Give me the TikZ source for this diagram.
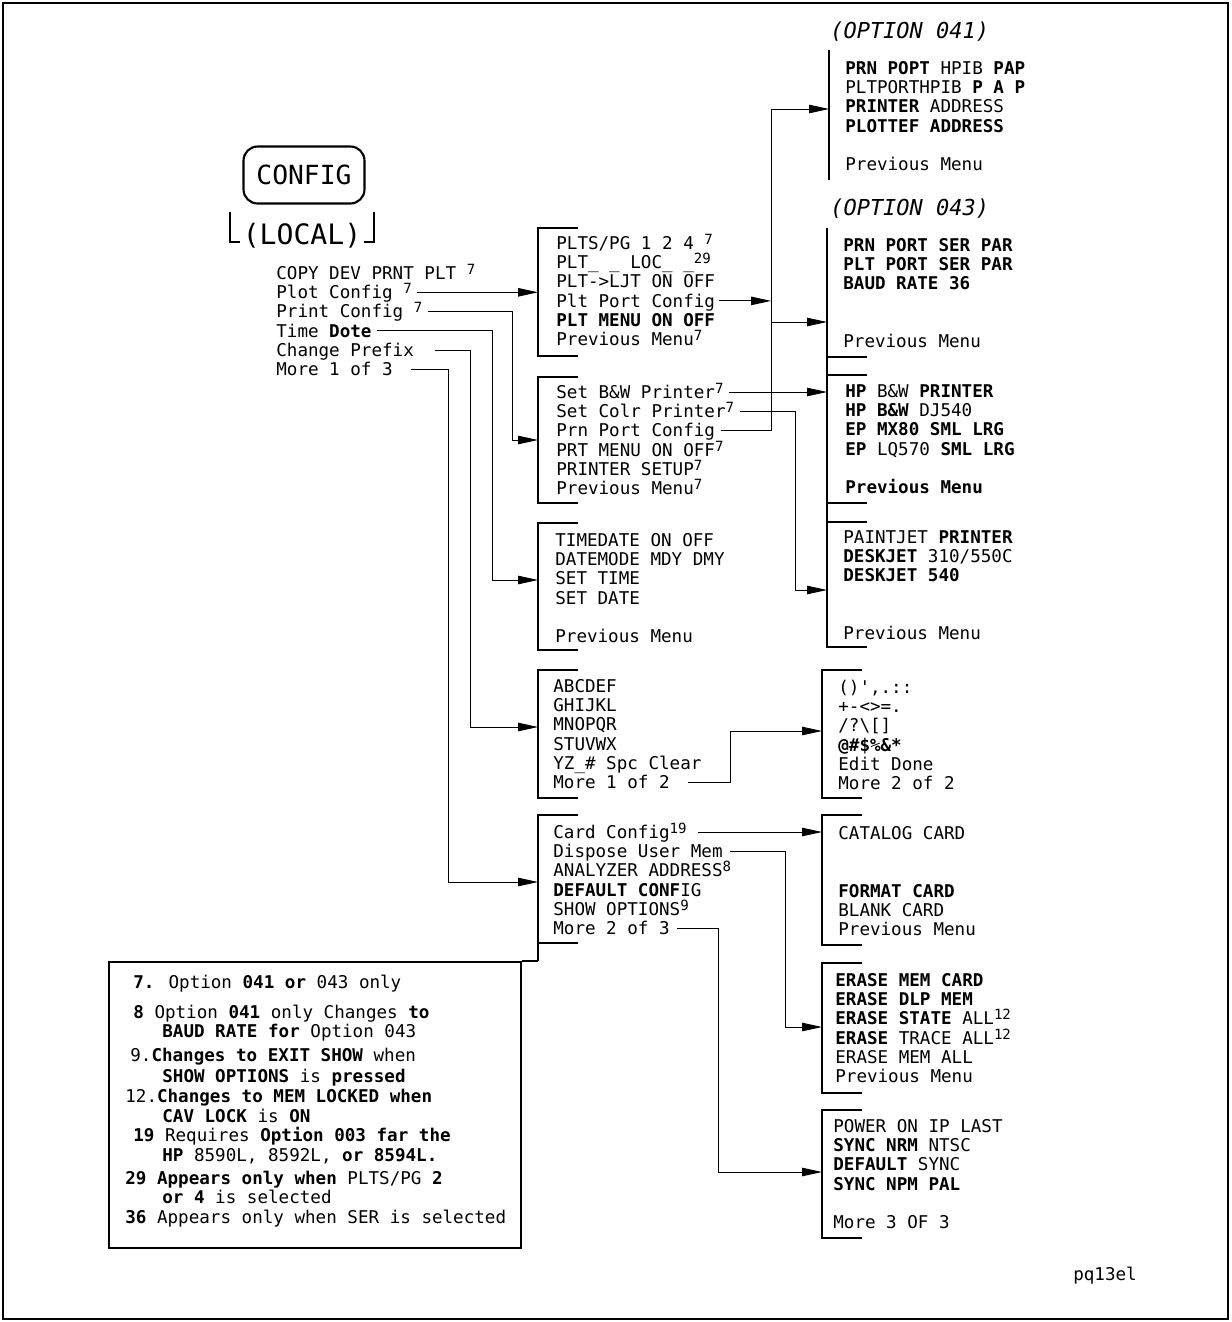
\documentclass[tikz,border=0pt]{standalone}
\usepackage{fontspec}
\setmainfont{DejaVu Sans Mono}
\usetikzlibrary{arrows.meta,positioning,calc}
\newcommand{\nt}[1]{\raisebox{0.28em}{\fontsize{8}{9.6}\selectfont #1}}

\begin{document}
\begin{tikzpicture}[x=0.02cm, y=-0.02cm,
    item/.style={anchor=west, inner sep=0pt, text height=7pt, text depth=0pt,
        font=\fontsize{10}{12}\selectfont},
    menubox/.style={anchor=north west, minimum width=0.8cm, inner sep=0pt, outer sep=0pt},
    brk/.style={line width=1.3pt},
    conn/.style={line width=0.5pt, -{Triangle[length=4mm,width=1.7mm]}},
    head/.style={anchor=west, inner sep=0pt, font=\fontsize{12.5}{14}\selectfont\itshape}
]
\useasboundingbox (0,0) rectangle (1231,1322);
\draw[line width=1.2pt] (3,3) rectangle (1228,1319);

% hard key
\node[draw, line width=1.2pt, rounded corners=8pt, minimum width=2.42cm, minimum height=1.14cm,
      font=\fontsize{15}{18}\selectfont] (config) at (304,175) {CONFIG};
\node[inner sep=0pt, font=\fontsize{16}{18}\selectfont] (local) at (302,236) {(LOCAL)};
\draw[line width=0.8pt] (230,212) -- (230,242) -- (240,242);
\draw[line width=0.8pt] (374,212) -- (374,242) -- (364,242);

\foreach \i/\t in {0/{COPY DEV PRNT PLT \nt{7}}, 1/{Plot Config \nt{7}}, 2/{Print Config \nt{7}},
                   3/{Time \textbf{Dote}}, 4/{Change Prefix}, 5/{More 1 of 3}}
    \node[item] (mm\i) at (276,{273+19.3*\i}) {\t};

% menu brackets
\foreach \nm/\xa/\ya/\yb in {plotm/538/228/356, prtm/538/377/503, timem/538/523/650,
        chrm/538/670/798, morem/538/815/943, symm/822/670/798, catm/822/815/945,
        erm/822/963/1093, pwm/822/1110/1238, hpm/827/375/503, pjm/827/522/647}{
    \node[menubox, minimum height={(\yb-\ya)*0.02cm}] (\nm) at (\xa,\ya) {};
    \draw[brk] (\nm.north east) -- (\nm.north west) -- (\nm.south west) -- (\nm.south east);
}
\node[menubox, minimum height=2.6cm] (o41m) at (829,50) {};
\node[menubox, minimum height=2.58cm] (o43m) at (827,228) {};
\draw[brk] (o41m.north west) -- (o41m.south west);
\draw[brk] (o43m.north west) -- (pjm.north west);
\draw[brk] (o43m.south west) -- (o43m.south east);

\node[head] (h41) at (830,32) {(OPTION 041)};
\node[head] (h43) at (830,209) {(OPTION 043)};

\foreach \i/\t in {0/{PLTS/PG 1 2 4 \nt{7}}, 1/{PLT\_ \_ LOC\_ \_\nt{29}}, 2/{PLT->LJT ON OFF},
                   3/{Plt Port Config}, 4/{\textbf{PLT MENU ON OFF}}, 5/{Previous Menu\nt{7}}}
    \node[item] (pl\i) at (556,{243+19.3*\i}) {\t};
\foreach \i/\t in {0/{Set B\&W Printer\nt{7}}, 1/{Set Colr Printer\nt{7}}, 2/{Prn Port Config},
                   3/{PRT MENU ON OFF\nt{7}}, 4/{PRINTER SETUP\nt{7}}, 5/{Previous Menu\nt{7}}}
    \node[item] (pr\i) at (556,{392+19.3*\i}) {\t};
\foreach \i/\t in {0/{TIMEDATE ON OFF}, 1/{DATEMODE MDY DMY}, 2/{SET TIME}, 3/{SET DATE},
                   5/{Previous Menu}}
    \node[item] (tm\i) at (555,{540+19.3*\i}) {\t};
\foreach \i/\t in {0/{ABCDEF}, 1/{GHIJKL}, 2/{MNOPQR}, 3/{STUVWX}, 4/{YZ\_\# Spc Clear},
                   5/{More 1 of 2}}
    \node[item] (ch\i) at (553,{686+19.3*\i}) {\t};
\foreach \i/\t in {0/{Card Config\nt{19}}, 1/{Dispose User Mem}, 2/{ANALYZER ADDRESS\nt{8}},
                   3/{\textbf{DEFAULT CONF}IG}, 4/{SHOW OPTIONS\nt{9}}, 5/{More 2 of 3}}
    \node[item] (cc\i) at (553,{832+19.3*\i}) {\t};

\foreach \i/\t in {0/{\textbf{PRN POPT} HPIB \textbf{PAP}}, 1/{PLTPORTHPIB \textbf{P A P}},
                   2/{\textbf{PRINTER} ADDRESS}, 3/{\textbf{PLOTTEF ADDRESS}}, 5/{Previous Menu}}
    \node[item] (oa\i) at (845,{68+19.3*\i}) {\t};
\foreach \i/\t in {0/{\textbf{PRN PORT SER PAR}}, 1/{\textbf{PLT PORT SER PAR}},
                   2/{\textbf{BAUD RATE 36}}, 5/{Previous Menu}}
    \node[item] (ob\i) at (843,{245+19.3*\i}) {\t};
\foreach \i/\t in {0/{\textbf{HP} B\&W \textbf{PRINTER}}, 1/{\textbf{HP B\&W} DJ540},
                   2/{\textbf{EP MX80 SML LRG}}, 3/{\textbf{EP} LQ570 \textbf{SML LRG}},
                   5/{\textbf{Previous Menu}}}
    \node[item] (hp\i) at (845,{391+19.3*\i}) {\t};
\foreach \i/\t in {0/{PAINTJET \textbf{PRINTER}}, 1/{\textbf{DESKJET} 310/550C},
                   2/{\textbf{DESKJET 540}}, 5/{Previous Menu}}
    \node[item] (pj\i) at (843,{537+19.3*\i}) {\t};
\foreach \i/\t in {0/{()\textquotesingle,.::}, 1/{+-<>=.}, 2/{/?\textbackslash[]},
                   3/{\textbf{@\#\$\%\&*}}, 4/{Edit Done}, 5/{More 2 of 2}}
    \node[item] (sy\i) at (838,{687+19.3*\i}) {\t};
\foreach \i/\t in {0/{CATALOG CARD}, 3/{\textbf{FORMAT CARD}}, 4/{BLANK CARD}, 5/{Previous Menu}}
    \node[item] (ca\i) at (838,{833+19.3*\i}) {\t};
\foreach \i/\t in {0/{\textbf{ERASE MEM CARD}}, 1/{\textbf{ERASE DLP MEM}},
                   2/{\textbf{ERASE STATE} ALL\nt{12}}, 3/{\textbf{ERASE} TRACE ALL\nt{12}},
                   4/{ERASE MEM ALL}, 5/{Previous Menu}}
    \node[item] (er\i) at (835,{980+19.3*\i}) {\t};
\foreach \i/\t in {0/{POWER ON IP LAST}, 1/{\textbf{SYNC NRM} NTSC}, 2/{\textbf{DEFAULT} SYNC},
                   3/{\textbf{SYNC NPM PAL}}, 5/{More 3 OF 3}}
    \node[item] (pw\i) at (833,{1126+19.3*\i}) {\t};

% connectors
\coordinate (in-prt) at (538,440);
\coordinate (in-time) at (538,580);
\coordinate (in-chr) at (538,727);
\coordinate (in-more) at (538,882);
\coordinate (bus41) at (771,109);
\coordinate (bus43) at (771,322);
\coordinate (in-pj) at (827,590);
\coordinate (in-sym) at (822,731);
\coordinate (in-erase) at (822,1027);
\coordinate (in-pwr) at (822,1172);

\draw[conn, shorten <=3pt] (mm1.east) -- (mm1.east -| plotm.west);
\draw[conn, shorten <=3pt] (mm2.east) -| ($(in-prt)+(-26,0)$) -- (in-prt);
\draw[conn, shorten <=3pt] (mm3.east) -| ($(in-time)+(-46,0)$) -- (in-time);
\draw[conn, shorten <=12pt] (mm4.east) -| ($(in-chr)+(-68,0)$) -- (in-chr);
\draw[conn, shorten <=10pt] (mm5.east) -| ($(in-more)+(-90,0)$) -- (in-more);

\draw[conn, shorten <=2pt] (pl3.east) -- (pl3.east -| bus41);
\draw[conn, shorten <=3pt] (pr2.east) -| (bus41) -- (bus41 -| o41m.west);
\draw[conn] (bus43) -- (bus43 -| o43m.west);
\draw[conn, shorten <=3pt] (pr0.east) -- (pr0.east -| hpm.west);
\draw[conn, shorten <=3pt] (pr1.east) -| ($(in-pj)+(-32,0)$) -- (in-pj);

\draw[conn, shorten <=10pt] (ch5.east) -| ($(in-sym)+(-92,0)$) -- (in-sym);
\draw[conn, shorten <=6pt] (cc0.east) -- (cc0.east -| catm.west);
\draw[conn, shorten <=4pt] (cc1.east) -| ($(in-erase)+(-37,0)$) -- (in-erase);
\draw[conn, shorten <=4pt] (cc5.east) -| ($(in-pwr)+(-104,0)$) -- (in-pwr);

% notes
\node[draw, line width=1pt, anchor=north west, inner sep=0pt, minimum width=8.24cm,
      minimum height=5.72cm] (legend) at (108,961) {};
\draw[line width=1pt] (legend.north east) -- (morem.west |- legend.north);
\draw[brk] (morem.south west) -- (morem.west |- legend.north);
\foreach \xa/\ya/\t in {133/982/{\textbf{7.} Option \textbf{041 or} 043 only},
        133/1012/{\textbf{8} Option \textbf{041} only Changes \textbf{to}},
        162/1031/{\textbf{BAUD RATE for} Option 043},
        130/1055/{9.\textbf{Changes to EXIT SHOW} when},
        162/1076/{\textbf{SHOW OPTIONS} is \textbf{pressed}},
        125/1096/{12.\textbf{Changes to MEM LOCKED when}},
        162/1116/{\textbf{CAV LOCK} is \textbf{ON}},
        133/1135/{\textbf{19} Requires \textbf{Option 003 far the}},
        162/1155/{\textbf{HP} 8590L, 8592L, \textbf{or 8594L.}},
        125/1178/{\textbf{29 Appears only when} PLTS/PG \textbf{2}},
        162/1197/{\textbf{or 4} is selected},
        125/1217/{\textbf{36} Appears only when SER is selected}}
    \node[item] at (\xa,\ya) {\t};

\node[inner sep=0pt, font=\fontsize{10}{12}\selectfont] (tag) at (1105,1276) {pq13el};
\end{tikzpicture}
\end{document}
